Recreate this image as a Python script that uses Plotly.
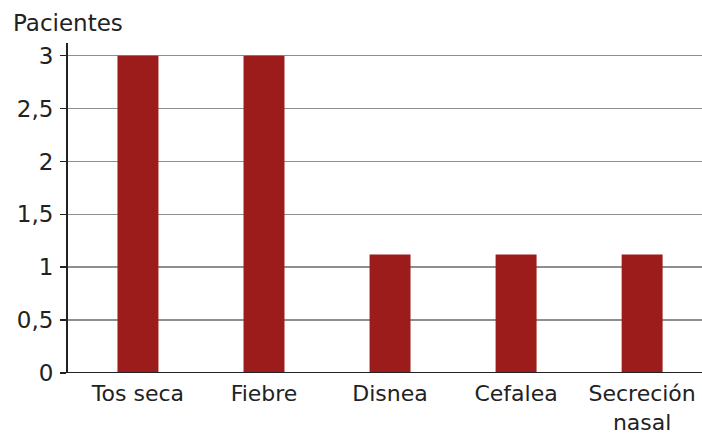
import plotly.graph_objects as go

categories = ["Tos seca", "Fiebre", "Disnea", "Cefalea", "Secreción<br>nasal"]
pacientes = [3, 3, 1.12, 1.12, 1.12]
y_ticks = [0, 0.5, 1, 1.5, 2, 2.5, 3]
y_tick_labels = ["0", "0,5", "1", "1,5", "2", "2,5", "3"]

FONT = "DejaVu Sans, Verdana, sans-serif"
TXT = "#222222"

fig = go.Figure(
    go.Bar(
        x=list(range(len(categories))),
        y=pacientes,
        marker=dict(color="#9B1C1A", line=dict(width=0)),
        width=0.325,
        hoverinfo="skip",
    )
)

fig.update_layout(
    width=702,
    height=435,
    margin=dict(l=68, r=0, t=43, b=62, autoexpand=False),
    paper_bgcolor="white",
    plot_bgcolor="white",
    showlegend=False,
    font=dict(family=FONT, size=23, color=TXT),
    xaxis=dict(
        range=[-0.555, 4.475],
        tickmode="array",
        tickvals=list(range(len(categories))),
        ticktext=categories,
        showgrid=False,
        showline=False,
        zeroline=False,
        ticks="",
        automargin=False,
        ticklabelstandoff=5,
        tickfont=dict(size=22, color=TXT),
    ),
    yaxis=dict(
        range=[0, 3.12],
        tickmode="array",
        tickvals=y_ticks,
        ticktext=y_tick_labels,
        showgrid=True,
        gridcolor="#8f8f8f",
        gridwidth=1.5,
        showline=True,
        linecolor=TXT,
        linewidth=2,
        ticks="outside",
        ticklen=6,
        tickwidth=1.5,
        tickcolor=TXT,
        zeroline=False,
        automargin=False,
        ticklabelstandoff=2,
        tickfont=dict(size=23, color=TXT),
    ),
    shapes=[
        dict(type="line", xref="paper", yref="y", x0=0, x1=1, y0=0, y1=0,
             line=dict(color=TXT, width=2)),
        dict(type="line", xref="paper", yref="y", x0=0, x1=0, y0=-0.095, y1=0,
             line=dict(color=TXT, width=2)),
    ],
    annotations=[
        dict(text="Pacientes", xref="paper", yref="paper", x=-0.09, y=1.015,
             xanchor="left", yanchor="bottom", showarrow=False,
             font=dict(family=FONT, size=23, color=TXT)),
    ],
)

fig.write_html(
    "out.html",
    config={"displayModeBar": False, "staticPlot": True},
    post_script="document.body.style.margin='0';document.body.style.overflow='hidden';",
)
